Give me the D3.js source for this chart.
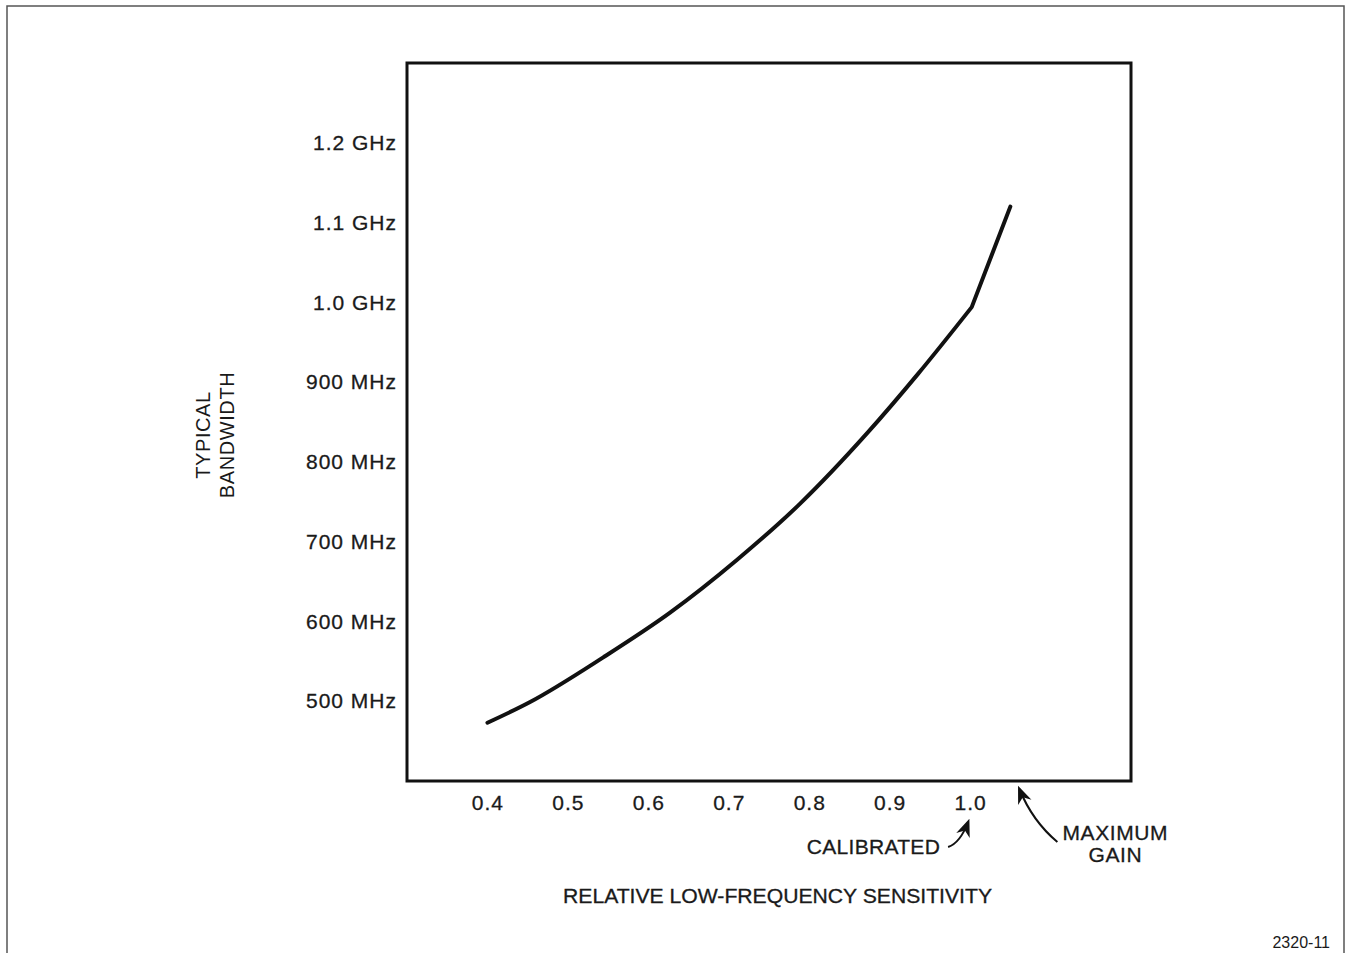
<!DOCTYPE html>
<meta http-equiv="content-type" content="text/html; charset=utf-8" />
<html lang="en">
<head>
<title>Typical Bandwidth</title>
<script src="https://d3js.org/d3.v7.min.js"></script>
<style>
body { margin: 0; background: #fff; }
svg { display: block; }
text { font-family: "Liberation Sans", Arial, sans-serif; fill: #1a1a1a; }
</style>
</head>
<body>
<div id="plot"></div>
</body>
<script>
// data
var sensitivity = [0.400, 0.453, 0.544, 0.627, 0.710, 0.789, 0.872, 0.935, 1.002, 1.050];
var bandwidth   = [473, 499, 555, 611, 677, 748, 836, 910, 994, 1120];

var xTicks = [0.4, 0.5, 0.6, 0.7, 0.8, 0.9, 1.0];
var xTickLabels = ["0.4", "0.5", "0.6", "0.7", "0.8", "0.9", "1.0"];
var yTicks = [500, 600, 700, 800, 900, 1000, 1100, 1200];
var yTickLabels = ["500 MHz", "600 MHz", "700 MHz", "800 MHz", "900 MHz", "1.0 GHz", "1.1 GHz", "1.2 GHz"];

var calibratedAt = 1.0;
var maxGainAt = 1.06;

var width = 1351, height = 953;
var svg = d3.select("#plot").append("svg")
  .attr("width", width).attr("height", height);

// outer frame of the figure
svg.append("path")
  .attr("d", "M7,953 L7,6 L1344,6 L1344,953")
  .attr("fill", "none").attr("stroke", "#555").attr("stroke-width", 1.5);

var box = {left: 407, right: 1131, top: 63, bottom: 781};

var x = d3.scaleLinear().domain([0.3, 1.2]).range([box.left, box.right]);
var y = d3.scaleLinear().domain([400, 1300]).range([box.bottom, box.top]);

svg.append("rect")
  .attr("x", box.left).attr("y", box.top)
  .attr("width", box.right - box.left).attr("height", box.bottom - box.top)
  .attr("fill", "none").attr("stroke", "#111").attr("stroke-width", 3);

// axes: labels only, no tick marks
var yAxis = svg.append("g")
  .attr("transform", "translate(" + box.left + ",0)")
  .call(d3.axisLeft(y).tickValues(yTicks).tickSize(0).tickPadding(10)
    .tickFormat(function(d, i) { return yTickLabels[i]; }));
var xAxis = svg.append("g")
  .attr("transform", "translate(0," + box.bottom + ")")
  .call(d3.axisBottom(x).tickValues(xTicks).tickSize(0).tickPadding(14)
    .tickFormat(function(d, i) { return xTickLabels[i]; }));
[xAxis, yAxis].forEach(function(g) {
  g.select(".domain").remove();
  g.selectAll("text").attr("font-size", 21).attr("fill", "#1a1a1a")
    .attr("letter-spacing", 1)
    .attr("stroke", "#1a1a1a").attr("stroke-width", 0.3)
    .style("font-family", "'Liberation Sans', Arial, sans-serif");
});

// curve: smooth up to the calibrated point, then a straight run to max gain
var pts = sensitivity.map(function(s, i) { return [s, bandwidth[i]]; });
var kink = pts.findIndex(function(d) { return d[0] >= calibratedAt; });
var smooth = d3.line()
  .x(function(d) { return x(d[0]); })
  .y(function(d) { return y(d[1]); })
  .curve(d3.curveMonotoneX);
var straight = d3.line()
  .x(function(d) { return x(d[0]); })
  .y(function(d) { return y(d[1]); });
svg.append("path")
  .attr("d", smooth(pts.slice(0, kink + 1)) + straight(pts.slice(kink)).replace(/^M[^L]*/, ""))
  .attr("fill", "none").attr("stroke", "#111").attr("stroke-width", 4)
  .attr("stroke-linecap", "round").attr("stroke-linejoin", "round");

// axis titles
svg.append("text")
  .attr("x", 777.5).attr("y", 903)
  .attr("text-anchor", "middle").attr("font-size", 20)
  .attr("stroke", "#1a1a1a").attr("stroke-width", 0.3)
  .attr("textLength", 429).attr("lengthAdjust", "spacingAndGlyphs")
  .text("RELATIVE LOW-FREQUENCY SENSITIVITY");

var ylab = svg.append("g").attr("transform", "translate(214,435) rotate(-90)");
ylab.append("text").attr("x", 0).attr("y", -4).attr("text-anchor", "middle")
  .attr("font-size", 20).attr("letter-spacing", 0.6).text("TYPICAL");
ylab.append("text").attr("x", 0).attr("y", 20).attr("text-anchor", "middle")
  .attr("font-size", 20).attr("letter-spacing", 0.6).text("BANDWIDTH");

// annotations with arrows
var defs = svg.append("defs");
defs.append("marker")
  .attr("id", "head").attr("viewBox", "0 0 10 10")
  .attr("refX", 8).attr("refY", 5)
  .attr("markerWidth", 9).attr("markerHeight", 9)
  .attr("orient", "auto")
  .append("path").attr("d", "M0,1 L10,5 L0,9 L3,5 Z").attr("fill", "#111");

var cx = x(calibratedAt);
svg.append("path")
  .attr("d", "M" + (cx - 22) + "," + (box.bottom + 66) +
    " Q" + (cx - 10) + "," + (box.bottom + 62) + " " + (cx - 2) + "," + (box.bottom + 41))
  .attr("fill", "none").attr("stroke", "#111").attr("stroke-width", 2)
  .attr("marker-end", "url(#head)");
svg.append("text")
  .attr("x", cx - 30).attr("y", box.bottom + 73)
  .attr("text-anchor", "end").attr("font-size", 21).attr("letter-spacing", 0.3)
  .attr("stroke", "#1a1a1a").attr("stroke-width", 0.3)
  .text("CALIBRATED");

var mx = x(maxGainAt);
svg.append("path")
  .attr("d", "M" + (mx + 39) + "," + (box.bottom + 61) +
    " Q" + (mx + 14) + "," + (box.bottom + 40) + " " + (mx + 1) + "," + (box.bottom + 8))
  .attr("fill", "none").attr("stroke", "#111").attr("stroke-width", 2)
  .attr("marker-end", "url(#head)");
svg.append("text")
  .attr("x", mx + 97).attr("y", box.bottom + 59)
  .attr("text-anchor", "middle").attr("font-size", 21).attr("letter-spacing", 0.6)
  .attr("stroke", "#1a1a1a").attr("stroke-width", 0.3)
  .text("MAXIMUM");
svg.append("text")
  .attr("x", mx + 97).attr("y", box.bottom + 81)
  .attr("text-anchor", "middle").attr("font-size", 21).attr("letter-spacing", 0.6)
  .attr("stroke", "#1a1a1a").attr("stroke-width", 0.3)
  .text("GAIN");

// figure number
svg.append("text")
  .attr("x", 1330).attr("y", 948)
  .attr("text-anchor", "end").attr("font-size", 16)
  .text("2320-11");
</script>
</html>
